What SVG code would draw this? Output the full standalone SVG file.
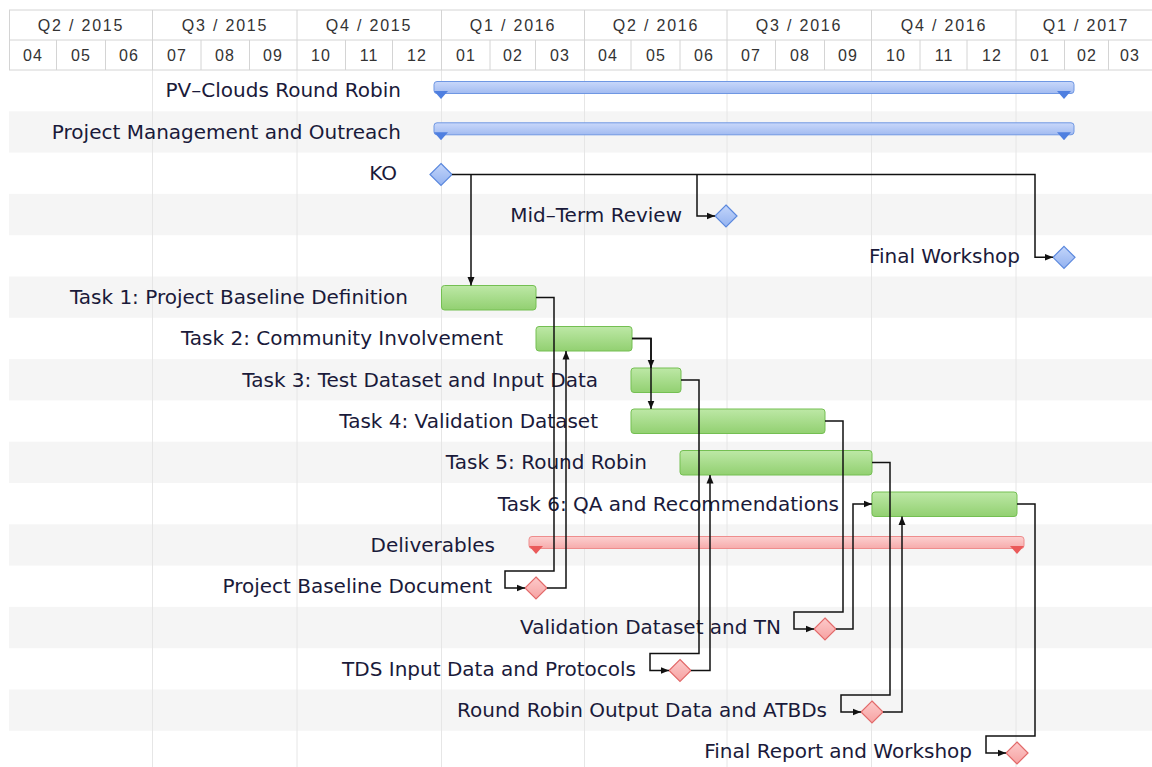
<svg xmlns="http://www.w3.org/2000/svg" width="1152" height="767" viewBox="0 0 1152 767">
<style>
.hl{stroke:#d4d4d4;stroke-width:1;fill:none}
.gl{stroke:#e6e6e6;stroke-width:1;fill:none}
.q{font-family:"Liberation Sans",Arial,sans-serif;font-size:16px;fill:#333;text-anchor:middle;letter-spacing:1.8px}
.m{font-family:"Liberation Sans",Arial,sans-serif;font-size:16px;fill:#333;text-anchor:middle;letter-spacing:1px}
.lb{font-family:"DejaVu Sans",Verdana,sans-serif;font-size:20px;fill:#1a1a3a;text-anchor:end}
.task{fill:url(#gG);stroke:#74bf52;stroke-width:1}
.bd{fill:url(#gB);stroke:#5b88dd;stroke-width:1.2}
.rd{fill:url(#gR);stroke:#e26a6a;stroke-width:1.2}
.bs{fill:url(#gBS);stroke:#6f97e3;stroke-width:1}
.bt{fill:#4f7fe0}
.rs{fill:url(#gRS);stroke:#ee8d8d;stroke-width:1}
.rt{fill:#ea5a5a}
.cn{stroke:#111;stroke-width:1.5;fill:none;marker-end:url(#ar)}
</style>
<defs>
<linearGradient id="gG" x1="0" y1="0" x2="0" y2="1"><stop offset="0" stop-color="#bde8a6"/><stop offset="1" stop-color="#92d071"/></linearGradient>
<linearGradient id="gB" x1="0" y1="0" x2="0" y2="1"><stop offset="0" stop-color="#c3d5fa"/><stop offset="1" stop-color="#93b2f0"/></linearGradient>
<linearGradient id="gR" x1="0" y1="0" x2="0" y2="1"><stop offset="0" stop-color="#fdcaca"/><stop offset="1" stop-color="#f6a2a2"/></linearGradient>
<linearGradient id="gBS" x1="0" y1="0" x2="0" y2="1"><stop offset="0" stop-color="#c9d8fa"/><stop offset="1" stop-color="#a2bbf1"/></linearGradient>
<linearGradient id="gRS" x1="0" y1="0" x2="0" y2="1"><stop offset="0" stop-color="#fcd0d0"/><stop offset="1" stop-color="#f6abab"/></linearGradient>
<marker id="ar" markerUnits="userSpaceOnUse" markerWidth="9" markerHeight="8" refX="8.5" refY="4" orient="auto"><path d="M0,0.5 L8.5,4 L0,7.5 z" fill="#111"/></marker>
</defs>
<rect width="1152" height="767" fill="#fff"/>
<g id="stripes" fill="#f5f5f5">
<rect x="9" y="111.3" width="1143" height="41.3"/>
<rect x="9" y="193.9" width="1143" height="41.3"/>
<rect x="9" y="276.5" width="1143" height="41.3"/>
<rect x="9" y="359.1" width="1143" height="41.3"/>
<rect x="9" y="441.7" width="1143" height="41.3"/>
<rect x="9" y="524.3" width="1143" height="41.3"/>
<rect x="9" y="606.9" width="1143" height="41.3"/>
<rect x="9" y="689.5" width="1143" height="41.3"/>
</g>
<g id="grid">
<path class="gl" d="M152.5,70V767M297,70V767M441.5,70V767M584.5,70V767M727,70V767M871.5,70V767M1016,70V767"/>
</g>
<g id="header">
<path class="hl" d="M9,10H1152M9,40H1152M9,70H1152M9.5,10V70M152.5,10V70M297,10V70M441.5,10V70M584.5,10V70M727,10V70M871.5,10V70M1016,10V70"/>
<path class="hl" d="M56.5,40V70M105.5,40V70M201,40V70M249.5,40V70M345.5,40V70M392.5,40V70M490,40V70M535.5,40V70M631,40V70M680,40V70M775.5,40V70M824.5,40V70M920,40V70M967,40V70M1064.5,40V70M1108.5,40V70"/>
<text class="q" x="81" y="31">Q2 / 2015</text>
<text class="q" x="225" y="31">Q3 / 2015</text>
<text class="q" x="369" y="31">Q4 / 2015</text>
<text class="q" x="513" y="31">Q1 / 2016</text>
<text class="q" x="656" y="31">Q2 / 2016</text>
<text class="q" x="799" y="31">Q3 / 2016</text>
<text class="q" x="944" y="31">Q4 / 2016</text>
<text class="q" x="1086" y="31">Q1 / 2017</text>
<text class="m" x="33" y="61">04</text>
<text class="m" x="81" y="61">05</text>
<text class="m" x="129" y="61">06</text>
<text class="m" x="177" y="61">07</text>
<text class="m" x="225" y="61">08</text>
<text class="m" x="273" y="61">09</text>
<text class="m" x="321" y="61">10</text>
<text class="m" x="369" y="61">11</text>
<text class="m" x="417" y="61">12</text>
<text class="m" x="466" y="61">01</text>
<text class="m" x="513" y="61">02</text>
<text class="m" x="560" y="61">03</text>
<text class="m" x="608" y="61">04</text>
<text class="m" x="656" y="61">05</text>
<text class="m" x="704" y="61">06</text>
<text class="m" x="751" y="61">07</text>
<text class="m" x="800" y="61">08</text>
<text class="m" x="848" y="61">09</text>
<text class="m" x="896" y="61">10</text>
<text class="m" x="944" y="61">11</text>
<text class="m" x="992" y="61">12</text>
<text class="m" x="1040" y="61">01</text>
<text class="m" x="1087" y="61">02</text>
<text class="m" x="1130" y="61">03</text>
</g>
<g id="pv-clouds">
<text class="lb" x="401" y="97">PV–Clouds Round Robin</text>
<rect class="bs" x="434" y="81.5" width="640" height="12" rx="3"/>
<path class="bt" d="M434,91 H448 L441,99 Z M1057,91 H1071 L1064,99 Z"/>
</g>
<g id="pm">
<text class="lb" x="401" y="138.5">Project Management and Outreach</text>
<rect class="bs" x="434" y="122.8" width="640" height="12" rx="3"/>
<path class="bt" d="M434,132.3 H448 L441,140.3 Z M1057,132.3 H1071 L1064,140.3 Z"/>
</g>
<g id="ko">
<text class="lb" x="397" y="180">KO</text>
<path class="bd" d="M441,163.5 L452,174.5 L441,185.5 L430,174.5 Z"/>
</g>
<g id="midterm">
<text class="lb" x="682" y="221.5">Mid–Term Review</text>
<path class="bd" d="M726,205 L737,216 L726,227 L715,216 Z"/>
</g>
<g id="finalws">
<text class="lb" x="1020" y="263">Final Workshop</text>
<path class="bd" d="M1064,246.3 L1075,257.3 L1064,268.3 L1053,257.3 Z"/>
</g>
<g id="task1">
<text class="lb" x="408" y="304">Task 1: Project Baseline Definition</text>
<rect class="task" x="441.5" y="285.5" width="94.5" height="24.5" rx="3"/>
</g>
<g id="task2">
<text class="lb" x="503" y="345.3">Task 2: Community Involvement</text>
<rect class="task" x="536" y="326.5" width="96" height="24.5" rx="3"/>
</g>
<g id="task3">
<text class="lb" x="598" y="386.6">Task 3: Test Dataset and Input Data</text>
<rect class="task" x="631" y="368" width="50" height="24.5" rx="3"/>
</g>
<g id="task4">
<text class="lb" x="598" y="427.9">Task 4: Validation Dataset</text>
<rect class="task" x="631" y="409" width="194" height="24.5" rx="3"/>
</g>
<g id="task5">
<text class="lb" x="647" y="469.2">Task 5: Round Robin</text>
<rect class="task" x="680" y="450.5" width="192" height="24.5" rx="3"/>
</g>
<g id="task6">
<text class="lb" x="839" y="510.5">Task 6: QA and Recommendations</text>
<rect class="task" x="872" y="492" width="145" height="24.5" rx="3"/>
</g>
<g id="deliverables">
<text class="lb" x="495" y="551.8">Deliverables</text>
<rect class="rs" x="529" y="536.5" width="495" height="12" rx="3"/>
<path class="rt" d="M529,546 H543 L536,554 Z M1010,546 H1024 L1017,554 Z"/>
</g>
<g id="pbd">
<text class="lb" x="492" y="593.1">Project Baseline Document</text>
<path class="rd" d="M536,577 L547,588 L536,599 L525,588 Z"/>
</g>
<g id="vdtn">
<text class="lb" x="781" y="634.4">Validation Dataset and TN</text>
<path class="rd" d="M825,618 L836,629 L825,640 L814,629 Z"/>
</g>
<g id="tds">
<text class="lb" x="636" y="675.7">TDS Input Data and Protocols</text>
<path class="rd" d="M680,659.5 L691,670.5 L680,681.5 L669,670.5 Z"/>
</g>
<g id="rrod">
<text class="lb" x="827" y="717">Round Robin Output Data and ATBDs</text>
<path class="rd" d="M872,701 L883,712 L872,723 L861,712 Z"/>
</g>
<g id="frw">
<text class="lb" x="972" y="758.3">Final Report and Workshop</text>
<path class="rd" d="M1017,742 L1028,753 L1017,764 L1006,753 Z"/>
</g>
<g id="connectors">
<path class="cn" d="M452,174.5 H1035 V257.3 H1053"/>
<path class="cn" d="M697,174.5 V216 H715"/>
<path class="cn" d="M471,174.5 V285.5"/>
<path class="cn" d="M536,297.5 H554 V571 H505 V588 H525"/>
<path class="cn" d="M547,588 H566 V351"/>
<path class="cn" d="M632,338.5 H651 V368"/>
<path class="cn" d="M632,338.5 H651 V409"/>
<path class="cn" d="M681,380 H699 V653.5 H650 V670.5 H669"/>
<path class="cn" d="M691,670.5 H710 V475"/>
<path class="cn" d="M825,421 H843 V612 H794 V629 H814"/>
<path class="cn" d="M836,629 H853 V504 H872"/>
<path class="cn" d="M872,462.5 H890 V695 H841 V712 H861"/>
<path class="cn" d="M883,712 H902 V516.5"/>
<path class="cn" d="M1017,504 H1035 V736 H986 V753 H1006"/>
</g>
</svg>
